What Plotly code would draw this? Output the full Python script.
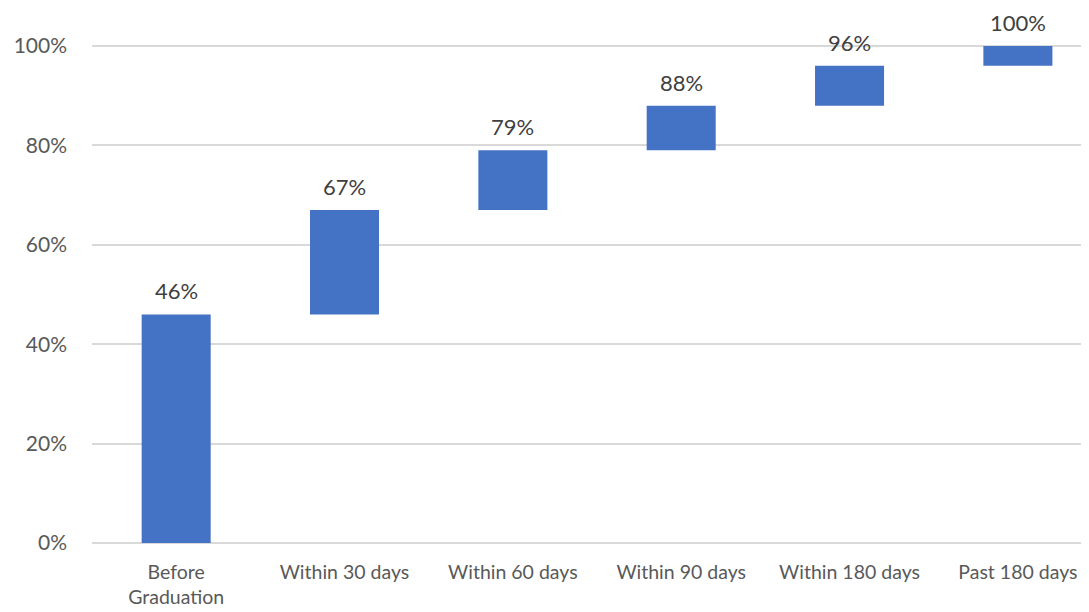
import plotly.graph_objects as go

categories = ["Before<br>Graduation", "Within 30 days", "Within 60 days",
              "Within 90 days", "Within 180 days", "Past 180 days"]
cumulative = [0.46, 0.67, 0.79, 0.88, 0.96, 1.00]
labels = ["46%", "67%", "79%", "88%", "96%", "100%"]

bases = [0] + cumulative[:-1]
heights = [c - b for c, b in zip(cumulative, bases)]
x = list(range(len(categories)))

FONT = "Lato, Carlito, sans-serif"

fig = go.Figure()
fig.add_trace(go.Bar(
    x=x, y=heights, base=bases, width=0.41,
    marker=dict(color="#4472C4", line=dict(width=0)),
    hoverinfo="skip",
))

for xi, c, t in zip(x, cumulative, labels):
    fig.add_annotation(x=xi, y=c, text=t, showarrow=False,
                       yanchor="bottom", yshift=9, borderpad=0,
                       font=dict(family=FONT, size=22, color="#404040"))

fig.update_layout(
    width=1089, height=612,
    margin=dict(l=84, r=0, t=12, b=77),
    paper_bgcolor="white", plot_bgcolor="white",
    showlegend=False,
    xaxis=dict(
        range=[-0.5, 5.47],
        tickmode="array", tickvals=x, ticktext=categories,
        showgrid=False, zeroline=False, showline=False,
        ticks="", ticklen=0, ticklabelstandoff=15,
        tickfont=dict(family=FONT, size=19.5, color="#595959"),
    ),
    yaxis=dict(
        range=[0, 1.0523],
        tickvals=[0, 0.2, 0.4, 0.6, 0.8, 1.0],
        tickformat=".0%",
        showgrid=True, gridcolor="#D9D9D9", gridwidth=1.5,
        zeroline=True, zerolinecolor="#D9D9D9", zerolinewidth=1.5,
        showline=False, ticks="", ticklabelstandoff=24,
        tickfont=dict(family=FONT, size=21, color="#595959"),
    ),
)

fig.write_html("out.html")
